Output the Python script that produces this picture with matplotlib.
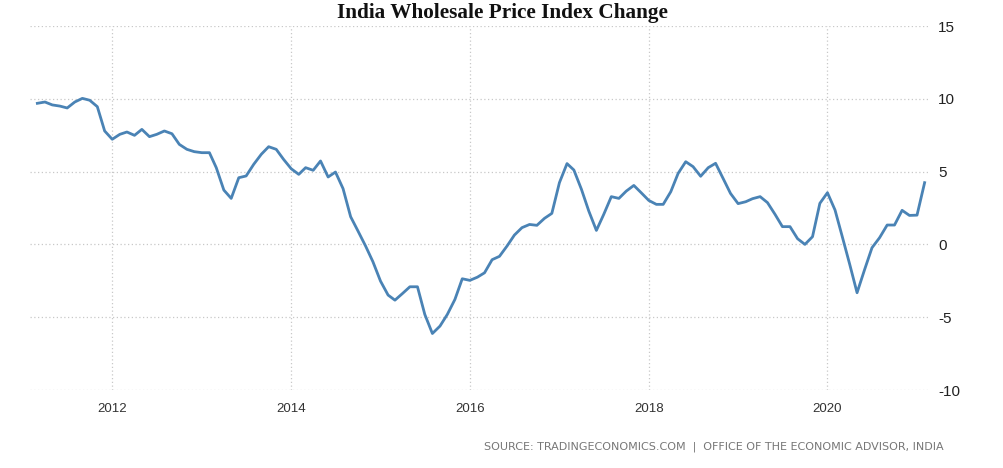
import datetime
import matplotlib
matplotlib.use("Agg")
import matplotlib.pyplot as plt
import matplotlib.dates as mdates

plt.rcParams["axes.unicode_minus"] = False

# monthly WPI change (%), Mar 2011 .. Feb 2021
start_year, start_month = 2011, 3
wpi = [
    9.69, 9.78, 9.58, 9.50, 9.37, 9.78, 10.03, 9.90, 9.46, 7.79,          # 2011 Mar-Dec
    7.22, 7.56, 7.72, 7.49, 7.90, 7.40, 7.56, 7.79, 7.60, 6.87, 6.53, 6.37,  # 2012
    6.30, 6.30, 5.27, 3.73, 3.16, 4.58, 4.70, 5.50, 6.19, 6.71, 6.53, 5.84,  # 2013
    5.20, 4.81, 5.27, 5.09, 5.73, 4.63, 4.97, 3.83, 1.90, 0.92, -0.11, -1.19,  # 2014
    -2.52, -3.48, -3.83, -3.37, -2.91, -2.91, -4.81, -6.12, -5.61, -4.81, -3.78, -2.36,  # 2015
    -2.47, -2.25, -1.95, -1.05, -0.82, -0.11, 0.64, 1.15, 1.37, 1.31, 1.79, 2.13,  # 2016
    4.24, 5.55, 5.11, 3.78, 2.29, 0.96, 2.06, 3.28, 3.16, 3.66, 4.05, 3.55,  # 2017
    3.02, 2.75, 2.75, 3.62, 4.88, 5.68, 5.34, 4.68, 5.27, 5.57, 4.52, 3.50,  # 2018
    2.80, 2.93, 3.14, 3.28, 2.87, 2.06, 1.22, 1.22, 0.39, 0.00, 0.53, 2.82,  # 2019
    3.55, 2.36, 0.57, -1.37, -3.32, -1.72, -0.23, 0.46, 1.33, 1.33, 2.34, 1.99,  # 2020
    2.01, 4.24,  # 2021
]

dates = []
y, m = start_year, start_month
for _ in wpi:
    dates.append(datetime.date(y, m, 1))
    m += 1
    if m > 12:
        m = 1
        y += 1

y_ticks = [-10, -5, 0, 5, 10, 15]
x_years = [2012, 2014, 2016, 2018, 2020]

fig = plt.figure(figsize=(10.04, 4.68), dpi=100)
ax = fig.add_axes([30 / 1004, 1 - 390 / 468, 900 / 1004, 364 / 468])

ax.plot(dates, wpi, color="#4a83b5", linewidth=2.0, solid_joinstyle="round")

ax.set_xlim(datetime.date(2011, 1, 30), datetime.date(2021, 2, 23))
ax.set_ylim(-10, 15)
ax.set_yticks(y_ticks)
ax.set_xticks([datetime.date(yr, 1, 1) for yr in x_years])
ax.xaxis.set_major_formatter(mdates.DateFormatter("%Y"))

ax.yaxis.tick_right()
ax.tick_params(axis="y", length=0, pad=6, labelsize=11, labelcolor="#222222")
ax.tick_params(axis="x", length=0, pad=9, labelsize=9.5, labelcolor="#333333")
for lbl in ax.get_xticklabels() + ax.get_yticklabels():
    lbl.set_fontfamily("Liberation Sans")

ax.grid(True, color="#c8c8c8", linestyle=(0, (1, 2)), linewidth=0.9)
for s in ax.spines.values():
    s.set_visible(False)

fig.text(0.5, 1 - 13 / 468, "India Wholesale Price Index Change", ha="center", va="center",
         fontsize=15.3, fontweight="bold", family="Liberation Serif", color="#111111")
fig.text(944 / 1004, 1 - 447 / 468,
         "SOURCE: TRADINGECONOMICS.COM  |  OFFICE OF THE ECONOMIC ADVISOR, INDIA",
         ha="right", va="center", fontsize=8.0, color="#777777", family="DejaVu Sans")

fig.savefig("out.png", dpi=100)
